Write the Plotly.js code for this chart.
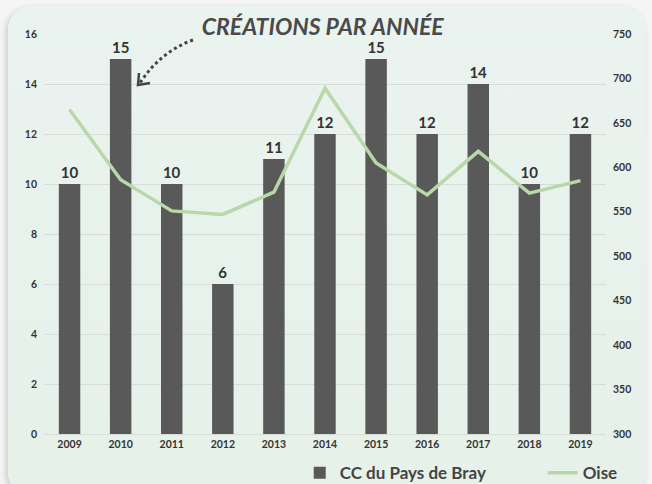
<!DOCTYPE html>
<html><head><meta charset="utf-8">
<script src="https://cdn.plot.ly/plotly-3.0.1.min.js"></script>
<style>
html,body{margin:0;padding:0;background:#f4f5f4;width:652px;height:484px;overflow:hidden;}
#card{position:absolute;left:8px;top:6px;width:638px;height:490px;border-radius:24px;
background:linear-gradient(180deg,#eaf3ef 0%,#e6f1ea 100%);box-shadow:-2px 2px 6px rgba(0,0,0,0.18);}
#chart{position:absolute;left:0;top:0;width:652px;height:484px;}
</style></head>
<body><div id="card"></div><div id="chart"></div>
<script>
const years = ['2009','2010','2011','2012','2013','2014','2015','2016','2017','2018','2019'];
const ccPaysDeBray = [10,15,10,6,11,12,15,12,14,10,12];
const oise = [665,586,551,547,572,689,605,569,618,571,585];
const titleText = 'CRÉATIONS PAR ANNÉE';
const fam = 'Lato, "DejaVu Sans", sans-serif';

const traces = [
  {type:'bar', x:years, y:ccPaysDeBray, name:'CC du Pays de Bray',
   marker:{color:'#595959'}, text:ccPaysDeBray.map(String), textposition:'outside',
   textfont:{family:fam, size:15, color:'#333', weight:700}, cliponaxis:false, hoverinfo:'none'},
  {type:'scatter', mode:'lines', x:years, y:oise, yaxis:'y2', name:'Oise',
   line:{color:'#b8d8a8', width:3.5}, hoverinfo:'none'}
];
const L=44, R=46, T=34, B=50;
const layout = {
  width:652, height:484, paper_bgcolor:'rgba(0,0,0,0)', plot_bgcolor:'rgba(0,0,0,0)',
  margin:{l:L, r:R, t:T, b:B, autoexpand:false},
  bargap:0.58, showlegend:true,
  font:{family:fam, color:'#444'},
  title:{text:'<i>'+titleText+'</i>', x:0.495, xanchor:'center', y:0.945, yanchor:'middle',
         font:{family:fam, size:23, color:'#4a4a4a', weight:700}},
  xaxis:{type:'category', tickfont:{family:fam, size:10.5, color:'#333', weight:700}, showgrid:false,
         showline:true, linecolor:'#d6dcd8', ticks:'', tickangle:0},
  yaxis:{range:[0,16], dtick:2, showgrid:true, gridcolor:'#d6dcd8', zeroline:false,
         tickfont:{family:fam, size:10.5, color:'#333', weight:700}, ticks:'', ticklabelstandoff:6},
  yaxis2:{range:[300,750], dtick:50, overlaying:'y', side:'right', showgrid:false, zeroline:false,
         tickfont:{family:fam, size:10.5, color:'#333', weight:700}, ticks:'', ticklabelstandoff:6},
  legend:{orientation:'h', x:0.455, xanchor:'left', y:-0.098, yanchor:'middle',
          font:{family:fam, size:17, color:'#444', weight:700},
          entrywidth:198, entrywidthmode:'pixels', tracegroupgap:0,
          bgcolor:'rgba(0,0,0,0)'}
};
function px(x){return (x-L)/(652-L-R);}
function py(y){return (484-B-y)/(484-T-B);}
layout.shapes = [
  {type:'path', xref:'paper', yref:'paper',
   path:`M ${px(193)} ${py(40)} Q ${px(160)} ${py(52)} ${px(140)} ${py(83)}`,
   line:{color:'#444', width:3, dash:'dot'}},
  {type:'path', xref:'paper', yref:'paper',
   path:`M ${px(139)} ${py(73)} L ${px(138)} ${py(85)} L ${px(150)} ${py(83)}`,
   line:{color:'#444', width:2.5}}
];
Plotly.newPlot('chart', traces, layout, {displayModeBar:false, staticPlot:true});
</script></body></html>
